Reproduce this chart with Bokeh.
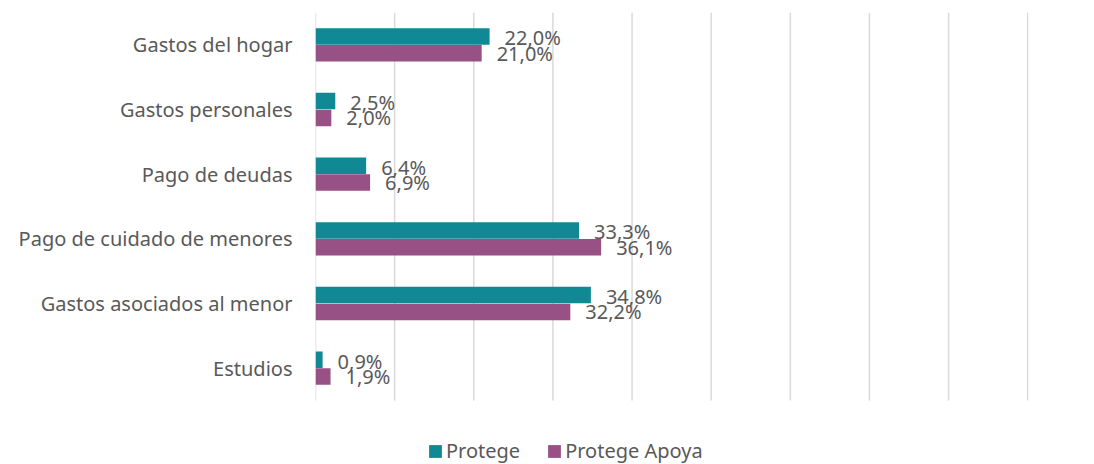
from bokeh.plotting import figure
from bokeh.models import ColumnDataSource, Range1d, FixedTicker, Legend, LegendItem
from bokeh.transform import dodge
from bokeh.core.properties import value
from bokeh.embed import file_html
from bokeh.resources import INLINE

categories = ["Gastos del hogar", "Gastos personales", "Pago de deudas",
              "Pago de cuidado de menores", "Gastos asociados al menor", "Estudios"]
protege = [22.0, 2.5, 6.4, 33.3, 34.8, 0.9]
protege_apoya = [21.0, 2.0, 6.9, 36.1, 32.2, 1.9]
series_names = ["Protege", "Protege Apoya"]
grid_ticks = [0, 10, 20, 30, 40, 50, 60, 70, 80, 90]

def fmt(v):
    return ("%.1f%%" % v).replace(".", ",")

n = len(categories)
pos = [n - 1 - i for i in range(n)]  # top category highest

src = ColumnDataSource(dict(
    pos=pos,
    p=protege,
    a=protege_apoya,
    pl=[fmt(v) for v in protege],
    al=[fmt(v) for v in protege_apoya],
))
grid_src = ColumnDataSource(dict(x=grid_ticks,
                                 y0=[-0.5] * len(grid_ticks),
                                 y1=[n - 0.5] * len(grid_ticks)))

TEAL = "#108994"
PURPLE = "#975185"
GREY = "#595959"
FONT = "Noto Sans"

p = figure(frame_width=713, frame_height=452, output_backend="svg", toolbar_location=None,
           y_range=Range1d(-1.49, n - 0.5), x_range=Range1d(0, 90.1))
p.min_border_left = 315
p.min_border_right = 66
p.min_border_top = 12
p.min_border_bottom = 0
p.outline_line_color = None
p.background_fill_color = "white"
p.border_fill_color = "white"

p.segment(x0="x", x1="x", y0="y0", y1="y1", source=grid_src,
          line_color="#d9d9d9", line_width=1.5)

r1 = p.hbar(y=dodge("pos", 0.13), right="p", left=0, height=0.255,
            source=src, fill_color=TEAL, line_color=None)
r2 = p.hbar(y=dodge("pos", -0.13), right="a", left=0, height=0.255,
            source=src, fill_color=PURPLE, line_color=None)

p.text(x="p", y=dodge("pos", 0.11), text="pl", x_offset=15,
       text_baseline="middle", text_font=value(FONT), text_font_size="20px",
       text_color=GREY, source=src)
p.text(x="a", y=dodge("pos", -0.13), text="al", x_offset=15,
       text_baseline="middle", text_font=value(FONT), text_font_size="20px",
       text_color=GREY, source=src)

p.xaxis.visible = False
p.xgrid.grid_line_color = None
p.ygrid.grid_line_color = None

ya = p.yaxis[0]
ya.ticker = FixedTicker(ticks=pos)
ya.major_label_overrides = {pp: c for pp, c in zip(pos, categories)}
ya.axis_line_color = None
ya.major_tick_line_color = None
ya.minor_tick_line_color = None
ya.major_tick_out = 0
ya.major_label_standoff = 23
ya.major_label_text_font = FONT
ya.major_label_text_font_size = "20px"
ya.major_label_text_color = GREY

legend = Legend(items=[LegendItem(label=series_names[0], renderers=[r1]),
                       LegendItem(label=series_names[1], renderers=[r2])],
                orientation="horizontal", location=(112, 0),
                glyph_width=16, glyph_height=16, label_standoff=3, spacing=26,
                padding=0, margin=0, border_line_color=None, background_fill_alpha=0,
                label_text_font=FONT, label_text_font_size="20px",
                label_text_color=GREY, label_height=20)
p.add_layout(legend)

open("out.html", "w").write(file_html(p, INLINE))
